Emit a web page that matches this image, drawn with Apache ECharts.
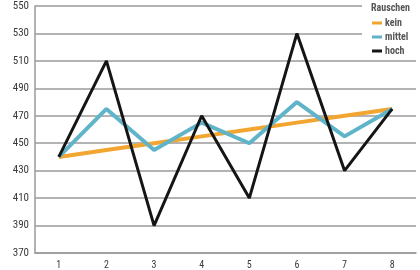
<!DOCTYPE html>
<html><head><meta charset="utf-8">
<script src="https://cdn.jsdelivr.net/npm/echarts@6/dist/echarts.min.js"></script>
<style>html,body{margin:0;padding:0;background:#fff}#c{width:420px;height:270px}</style>
</head><body><div id="c"></div>
<script>
const categories = ['1','2','3','4','5','6','7','8'];
const kein = [440, 445, 450, 455, 460, 465, 470, 475];
const mittel = [440, 475, 445, 465, 450, 480, 455, 475];
const hoch = [440, 510, 390, 470, 410, 530, 430, 475];
const seriesNames = ['kein', 'mittel', 'hoch'];
const legendTitle = 'Rauschen';
const yName = 'Preis';
const yMin = 370, yMax = 550, yStep = 20;

const font = '"Liberation Sans Narrow", "Roboto Condensed", "Liberation Sans", sans-serif';
const chart = echarts.init(document.getElementById('c'));
chart.setOption({
  animation: false,
  backgroundColor: '#fff',
  textStyle: { fontFamily: font },
  grid: { left: 35, right: 4, top: 6, bottom: 17, containLabel: false, outerBoundsMode: 'none' },
  xAxis: {
    type: 'category', data: categories, boundaryGap: true,
    axisLine: { show: true, lineStyle: { color: '#9a9a9a', width: 1.5 } },
    axisTick: { show: false },
    axisLabel: { color: '#3a3a3a', fontSize: 10, margin: 7, fontFamily: font }
  },
  yAxis: {
    type: 'value', min: yMin, max: yMax, interval: yStep,
    name: yName, nameLocation: 'middle', nameRotate: 90, nameGap: 31,
    nameTextStyle: { color: '#3a3a3a', fontSize: 10, fontFamily: font },
    axisLine: { show: true, lineStyle: { color: '#9a9a9a', width: 1.5 } },
    axisTick: { show: false },
    axisLabel: { color: '#3a3a3a', fontSize: 11, margin: 6, fontFamily: font },
    splitLine: { lineStyle: { color: '#9a9a9a', width: 1.5 } }
  },
  legend: {
    orient: 'vertical', left: 362, top: 0,
    padding: [18, 10, 4, 10],
    backgroundColor: '#fff',
    itemWidth: 10, itemHeight: 3, itemGap: 4, icon: 'rect',
    data: seriesNames,
    textStyle: { color: '#555', fontSize: 10, fontWeight: 'bold', fontFamily: font, padding: [0,0,0,-2] }
  },
  graphic: [{
    type: 'text', left: 371, top: 3, z: 100,
    style: { text: legendTitle, fill: '#555', font: 'bold 10px ' + font }
  }],
  series: [
    { name: seriesNames[0], type: 'line', data: kein, symbol: 'none', color: '#F2A531',
      lineStyle: { width: 4, color: '#F2A531' }, z: 2 },
    { name: seriesNames[1], type: 'line', data: mittel, symbol: 'none', color: '#5FB4C9',
      lineStyle: { width: 4, color: '#5FB4C9' }, z: 3 },
    { name: seriesNames[2], type: 'line', data: hoch, symbol: 'none', color: '#151515',
      lineStyle: { width: 3, color: '#151515' }, z: 4 }
  ]
});
</script></body></html>
